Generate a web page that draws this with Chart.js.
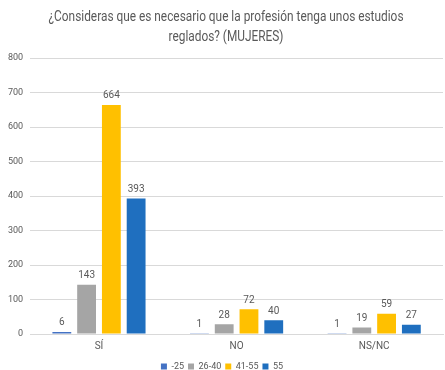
<!DOCTYPE html>
<html>
<head>
<meta charset="utf-8">
<script src="https://cdn.jsdelivr.net/npm/chart.js"></script>
<style>
  html, body { margin: 0; padding: 0; background: #fff; }
  #wrap { width: 445px; height: 370px; }
</style>
</head>
<body>
<div id="wrap"><canvas id="chart" width="445" height="370"></canvas></div>
<script>
const categories = ['SÍ', 'NO', 'NS/NC'];
const seriesNames = ['-25', '26-40', '41-55', '55'];
const valsU25 = [6, 1, 1];
const vals2640 = [143, 28, 19];
const vals4155 = [664, 72, 59];
const vals55 = [393, 40, 27];
const yTicks = [0, 100, 200, 300, 400, 500, 600, 700, 800];
const titleLines = ['¿Consideras que es necesario que la profesión tenga unos estudios', 'reglados? (MUJERES)'];

const colors = ['#4472C4', '#A5A5A5', '#FFC000', '#1F6FBF'];
const FONT = 'Roboto, sans-serif';

// etichette sopra le barre
const barLabels = {
  id: 'barLabels',
  afterDatasetsDraw(chart) {
    const ctx = chart.ctx;
    ctx.save();
    ctx.fillStyle = '#595959';
    ctx.font = '10px ' + FONT;
    ctx.textAlign = 'center';
    ctx.textBaseline = 'bottom';
    chart.data.datasets.forEach((ds, i) => {
      chart.getDatasetMeta(i).data.forEach((bar, j) => {
        ctx.fillText(ds.data[j], bar.x, bar.y - 4);
      });
    });
    ctx.restore();
  }
};

// titolo un po' stretto in orizzontale (tipo Calibri)
const narrowTitle = {
  id: 'narrowTitle',
  afterDraw(chart) {
    const ctx = chart.ctx;
    ctx.save();
    ctx.font = '15px ' + FONT;
    ctx.fillStyle = '#595959';
    ctx.textAlign = 'center';
    ctx.textBaseline = 'middle';
    const k = 355 / ctx.measureText(titleLines[0]).width;
    const cx = 226;
    ctx.translate(cx, 0);
    ctx.scale(k, 1);
    ctx.fillText(titleLines[0], 0, 17);
    ctx.fillText(titleLines[1], 0, 37);
    ctx.restore();
  }
};

const allVals = [valsU25, vals2640, vals4155, vals55];

new Chart(document.getElementById('chart').getContext('2d'), {
  type: 'bar',
  data: {
    labels: categories,
    datasets: seriesNames.map((name, i) => ({
      label: name,
      data: allVals[i],
      backgroundColor: colors[i],
      categoryPercentage: 0.72,
      barPercentage: 0.76
    }))
  },
  options: {
    responsive: false,
    animation: false,
    layout: { padding: { left: 1, right: 2, top: 4, bottom: -11 } },
    scales: {
      x: {
        grid: { display: false, drawTicks: false },
        border: { color: '#D9D9D9' },
        ticks: { color: '#595959', font: { size: 10, family: FONT }, padding: 6 }
      },
      y: {
        min: 0,
        max: 800,
        afterBuildTicks(axis) { axis.ticks = yTicks.map(v => ({ value: v })); },
        grid: { color: '#D9D9D9', drawTicks: false },
        border: { display: false },
        ticks: { color: '#595959', font: { size: 9, family: FONT }, padding: 7 }
      }
    },
    plugins: {
      title: {
        display: true,
        text: titleLines,
        color: 'rgba(0,0,0,0)',
        font: { size: 15, weight: 'normal', family: FONT },
        padding: { top: 4, bottom: 14 }
      },
      legend: {
        position: 'bottom',
        labels: {
          color: '#595959',
          font: { size: 9, family: FONT },
          boxWidth: 6,
          boxHeight: 6,
          padding: 4
        }
      },
      tooltip: { enabled: false }
    }
  },
  plugins: [barLabels, narrowTitle]
});
</script>
</body>
</html>
